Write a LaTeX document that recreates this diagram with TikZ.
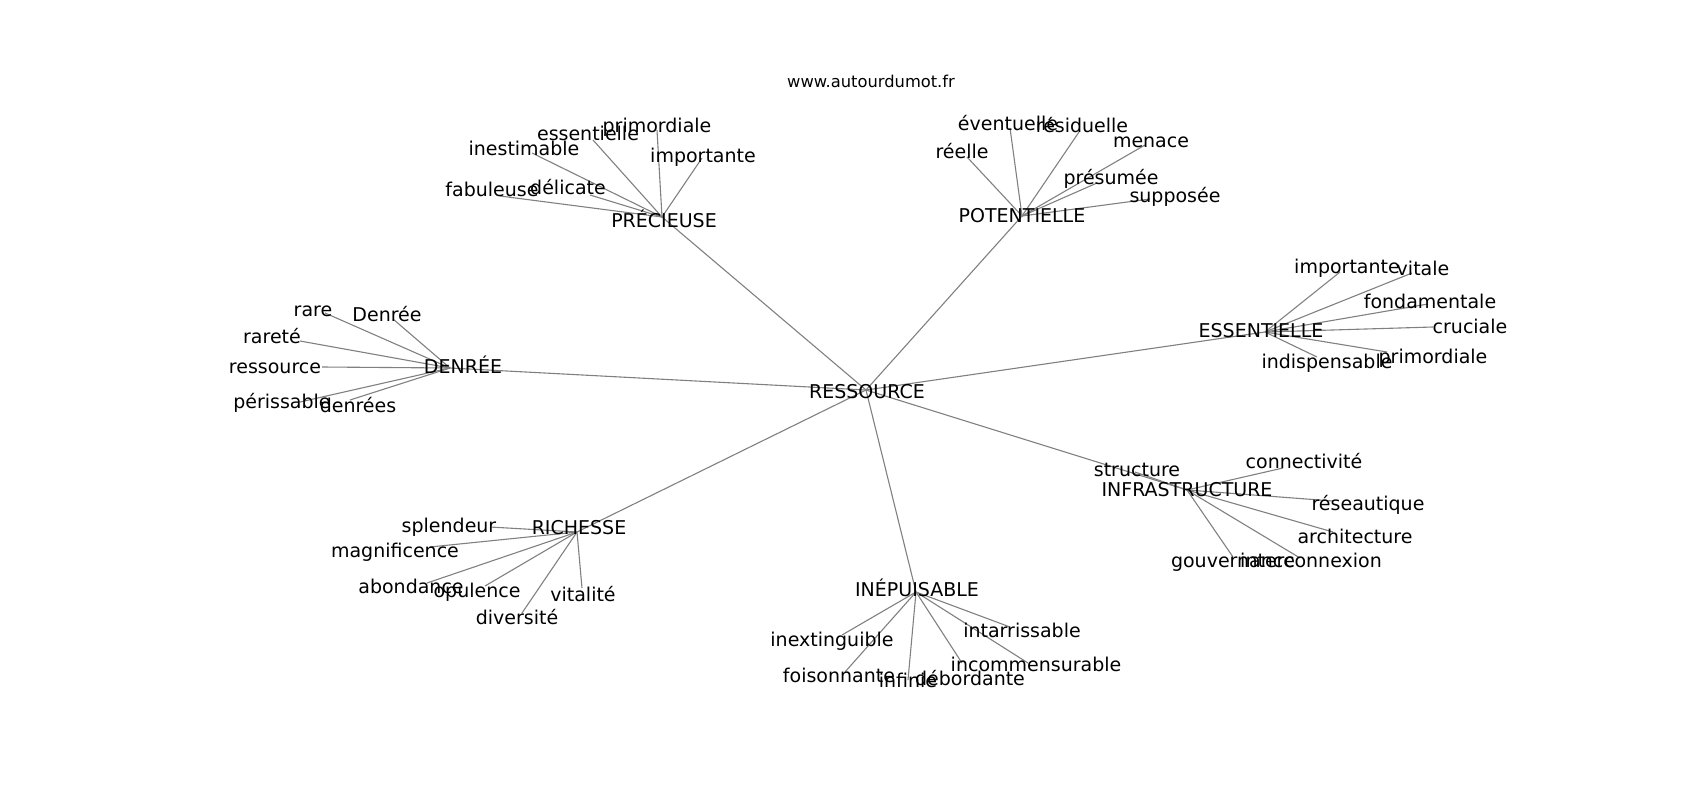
\documentclass[tikz,border=0pt]{standalone}
\usepackage{fontspec}
\setmainfont{DejaVu Sans}
\usetikzlibrary{backgrounds}

\begin{document}
\begin{tikzpicture}[x=1pt,y=-1pt,
  word/.style={anchor=base,inner sep=0pt,font=\fontsize{19}{22}\selectfont},
  edge/.style={draw=gray,line width=1.1pt}]
% ==========================================
\useasboundingbox (0,0) rectangle (1700,800);
\node[anchor=base,inner sep=0pt,font=\fontsize{16.3}{19}\selectfont] (site) at (871,88) {www.autourdumot.fr};
%
\coordinate (res) at (866,390);
\coordinate (pre) at (662,217);
\coordinate (pot) at (1022,216);
\coordinate (ess) at (1265,332);
\coordinate (inf) at (1187,490);
\coordinate (ine) at (916,592);
\coordinate (ric) at (577,532);
\coordinate (den) at (450,368);
\begin{scope}[on background layer]
\foreach \h in {pre,pot,ess,inf,ine,ric,den} \draw[edge] (res) -- (\h);
\end{scope}
\node[word] (res-t) at (867,398) {RESSOURCE};
\node[word] (pre-t) at (664,227) {PRÉCIEUSE};
\node[word] (pot-t) at (1022,222) {POTENTIELLE};
\node[word] (ess-t) at (1261,337) {ESSENTIELLE};
\node[word] (inf-t) at (1187,496) {INFRASTRUCTURE};
\node[word] (ine-t) at (917,596) {INÉPUISABLE};
\node[word] (ric-t) at (579,534) {RICHESSE};
\node[word] (den-t) at (463,373) {DENRÉE};
% =============================================
\foreach \h/\k/\p/\q/\t in {
  pre/fab/{500,196}/{492,196}/fabuleuse, pre/del/{590,195}/{568,194}/délicate,
  pre/ine/{532,153}/{524,155}/inestimable, pre/ess/{593,140}/{588,140}/essentielle,
  pre/pri/{657,130}/{657,132}/primordiale, pre/imp/{702,158}/{703,162}/importante,
  pot/ree/{967,157}/{962,158}/réelle, pot/eve/{1010,128}/{1008,130}/éventuelle,
  pot/res/{1079,132}/{1082,132}/résiduelle, pot/men/{1145,145}/{1151,147}/menace,
  pot/pre/{1097,183}/{1111,184}/présumée, pot/sup/{1150,199}/{1175,202}/supposée,
  ess/imp/{1340,272}/{1347,273}/importante, ess/vit/{1412,273}/{1423,275}/vitale,
  ess/fon/{1428,304}/{1430,308}/fondamentale, ess/cru/{1433,327}/{1470,333}/cruciale,
  ess/pri/{1387,352}/{1433,363}/primordiale, ess/ind/{1317,357}/{1327,368}/indispensable,
  inf/str/{1135,472}/{1137,476}/structure, inf/con/{1283,468}/{1304,468}/connectivité,
  inf/res/{1333,501}/{1368,510}/réseautique, inf/arc/{1333,532}/{1355,543}/architecture,
  inf/gou/{1233,557}/{1233,567}/gouvernance, inf/int/{1300,558}/{1311,567}/interconnexion,
  ine/inx/{842,635}/{832,646}/inextinguible, ine/foi/{845,672}/{839,682}/foisonnante,
  ine/inf/{908,680}/{908,687}/infinie, ine/deb/{962,663}/{970,685}/débordante,
  ine/inc/{1028,663}/{1036,671}/incommensurable, ine/int/{1010,627}/{1022,637}/intarrissable,
  ric/spl/{490,527}/{449,532}/splendeur, ric/mag/{430,547}/{395,557}/magnificence,
  ric/abo/{427,583}/{411,593}/abondance, ric/opu/{485,586}/{477,597}/opulence,
  ric/vit/{582,588}/{583,601}/vitalité, ric/div/{522,613}/{517,624}/diversité,
  den/rar/{325,313}/{313,316}/rare, den/dee/{393,319}/{387,321}/Denrée,
  den/rat/{300,341}/{272,343}/rareté, den/ress/{322,367}/{275,373}/ressource,
  den/per/{300,402}/{282,408}/périssable, den/dees/{350,400}/{358,412}/denrées}{
  \coordinate (\h-\k) at (\p);
  \begin{scope}[on background layer]
  \draw[edge] (\h) -- (\h-\k);
  \end{scope}
  \node[word] (\h-\k-t) at (\q) {\t};
}
% =============================================
\end{tikzpicture}
\end{document}
